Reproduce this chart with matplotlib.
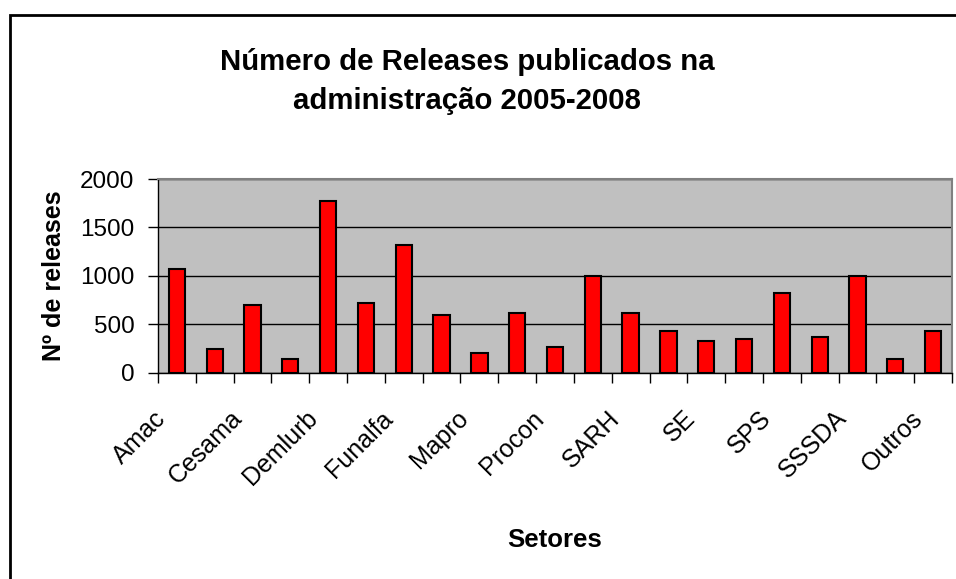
import numpy as np
import matplotlib.pyplot as plt
import matplotlib.transforms as mtransforms
from matplotlib.patches import Rectangle

plt.rcParams['font.family'] = ['Liberation Sans', 'DejaVu Sans']

# setores (so um rotulo a cada duas barras aparece no original)
setores = ['Amac', '', 'Cesama', '', 'Demlurb', '', 'Funalfa', '', 'Mapro', '',
           'Procon', '', 'SARH', '', 'SE', '', 'SPS', '', 'SSSDA', '', 'Outros']
releases = [1070, 245, 700, 140, 1775, 720, 1320, 597, 205, 617, 268,
            995, 617, 435, 332, 350, 825, 373, 995, 141, 435]
yticks = [0, 500, 1000, 1500, 2000]

fig = plt.figure(figsize=(9.56, 5.79), dpi=100)
ax = fig.add_axes([158/956, 1 - 372.7/579, 794/956, 193.7/579])

x = np.arange(len(releases))
ax.bar(x, releases, width=0.43, color='#FF0000', edgecolor='black', linewidth=1.5, zorder=3)

ax.set_facecolor('#C0C0C0')
ax.set_xlim(-0.5, len(releases) - 0.5)
ax.set_ylim(0, 2000)
ax.set_yticks(yticks)
ax.yaxis.grid(True, color='black', linewidth=1)
ax.set_axisbelow(True)

# ticks nas divisas entre categorias, como no Excel
ax.set_xticks(np.arange(-0.5, len(releases)), minor=False)
ax.set_xticklabels([])
ax.set_xticks(x, minor=True)
ax.set_xticklabels(setores, minor=True, rotation=45, ha='right',
                   rotation_mode='anchor', fontsize=18)
ax.tick_params(axis='x', which='minor', length=0, pad=24)
ax.tick_params(axis='x', which='major', length=7, width=1, direction='out')
ax.tick_params(axis='y', length=7, width=1, direction='out', labelsize=17.5, pad=10)

# desloca os rotulos inclinados pra esquerda
desloc = mtransforms.ScaledTranslation(-23/100, 0, fig.dpi_scale_trans)
for lbl in ax.get_xticklabels(minor=True):
    lbl.set_transform(lbl.get_transform() + desloc)

for s in ['top', 'right']:
    ax.spines[s].set_color('#808080')
    ax.spines[s].set_linewidth(1.5)
for s in ['left', 'bottom']:
    ax.spines[s].set_color('black')
    ax.spines[s].set_linewidth(1)

fig.text(467/956, 1 - 81/579, 'Número de Releases publicados na\nadministração 2005-2008',
         ha='center', va='center', fontsize=21.2, fontweight='bold', linespacing=1.5)
ax.set_ylabel('Nº de releases', fontsize=18, fontweight='bold', labelpad=10)
fig.text(555/956, 1 - 540/579, 'Setores', ha='center', va='center',
         fontsize=18.5, fontweight='bold')

# moldura do grafico (cortada a direita e em baixo)
fig.patches.append(Rectangle((10/956, -0.1), 1.2, (579 - 15)/579 + 0.1,
                             transform=fig.transFigure, fill=False,
                             edgecolor='black', linewidth=2))

fig.savefig('out.png', dpi=100)
